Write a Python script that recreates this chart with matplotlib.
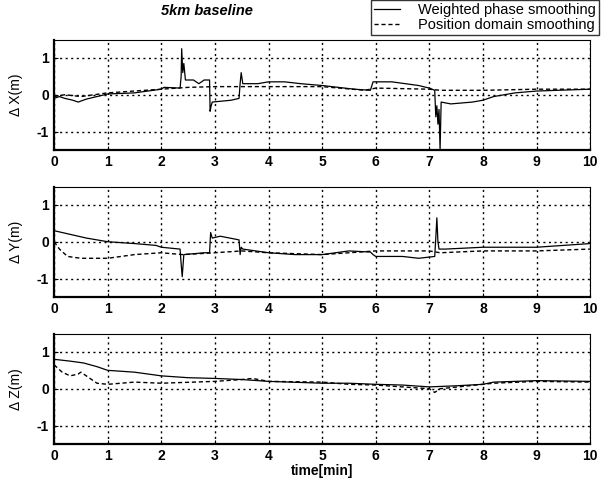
import matplotlib
matplotlib.use('Agg')
import matplotlib.pyplot as plt

plt.rcParams['font.family'] = ['Liberation Sans', 'DejaVu Sans']
plt.rcParams['axes.unicode_minus'] = False

# valores (tempo em min, erro em m)
t_x_wps = [0, 0.1, 0.2, 0.35, 0.45, 0.6, 0.8, 1.0, 1.5, 2.0, 2.05, 2.35, 2.37, 2.38, 2.4, 2.42, 2.45,
           2.6, 2.7, 2.8, 2.9, 2.91, 2.93, 2.95, 3.3, 3.45, 3.47, 3.49, 3.52, 3.8, 4.0, 4.3, 4.6, 5.0,
           5.3, 5.6, 5.9, 5.95, 6.3, 6.8, 7.0, 7.1, 7.12, 7.14, 7.16, 7.18, 7.2, 7.22, 7.4, 7.8, 8.0,
           8.2, 8.6, 9.0, 10]
x_wps = [-0.1, -0.05, -0.1, -0.15, -0.2, -0.12, -0.05, 0.02, 0.05, 0.15, 0.2, 0.18, 0.5, 1.25, 0.6,
         0.85, 0.4, 0.4, 0.3, 0.4, 0.4, -0.45, -0.3, -0.2, -0.15, -0.1, 0.3, 0.6, 0.3, 0.3, 0.35,
         0.35, 0.3, 0.25, 0.2, 0.15, 0.12, 0.35, 0.35, 0.25, 0.18, 0.12, -0.6, -0.3, -0.8, -0.4,
         -1.5, -0.2, -0.25, -0.2, -0.15, -0.05, 0.05, 0.1, 0.15]
t_x_pds = [0, 0.2, 0.5, 1.0, 2.0, 2.5, 3.0, 4.0, 5.0, 5.8, 6.0, 7.0, 7.2, 8.0, 9.0, 10]
x_pds = [-0.05, 0.0, -0.05, 0.05, 0.15, 0.2, 0.22, 0.22, 0.22, 0.12, 0.18, 0.15, 0.12, 0.12, 0.15, 0.15]

t_y_wps = [0, 0.3, 0.6, 1.0, 1.5, 1.9, 2.0, 2.35, 2.37, 2.39, 2.42, 2.8, 2.9, 2.92, 2.95, 3.1, 3.45,
           3.47, 3.49, 3.52, 4.0, 4.5, 5.0, 5.5, 5.9, 5.95, 6.0, 6.5, 6.8, 7.1, 7.12, 7.14, 7.16,
           7.18, 7.3, 8.0, 9.0, 9.5, 10]
y_wps = [0.3, 0.2, 0.1, 0.0, -0.05, -0.1, -0.15, -0.2, -0.6, -0.95, -0.35, -0.3, -0.3, 0.25, 0.1,
         0.15, 0.05, -0.35, -0.15, -0.2, -0.3, -0.35, -0.35, -0.25, -0.28, -0.35, -0.4, -0.4,
         -0.45, -0.4, 0.1, 0.65, 0.0, -0.2, -0.2, -0.15, -0.15, -0.1, -0.05]
t_y_pds = [0, 0.1, 0.25, 0.5, 1.0, 1.5, 2.0, 2.4, 3.0, 3.5, 4.0, 5.0, 5.5, 6.0, 7.0, 7.2, 8.0, 9.0, 10]
y_pds = [0.0, -0.2, -0.4, -0.45, -0.45, -0.35, -0.3, -0.35, -0.3, -0.25, -0.3, -0.35, -0.3, -0.25,
         -0.25, -0.3, -0.25, -0.25, -0.2]

t_z_wps = [0, 0.3, 0.55, 0.8, 1.0, 1.5, 2.0, 2.5, 3.0, 3.5, 4.0, 5.0, 5.5, 6.0, 6.5, 7.0, 7.5, 8.0,
           8.2, 9.0, 10]
z_wps = [0.8, 0.75, 0.7, 0.6, 0.5, 0.45, 0.35, 0.3, 0.28, 0.25, 0.2, 0.15, 0.15, 0.12, 0.1, 0.05,
         0.08, 0.12, 0.18, 0.22, 0.2]
t_z_pds = [0, 0.15, 0.3, 0.45, 0.5, 0.6, 0.8, 1.0, 1.5, 2.0, 3.0, 3.5, 3.7, 4.0, 5.0, 5.5, 6.0, 6.5,
           7.0, 7.1, 7.2, 8.0, 8.2, 9.0, 10]
z_pds = [0.65, 0.45, 0.35, 0.4, 0.45, 0.35, 0.15, 0.12, 0.18, 0.15, 0.2, 0.25, 0.28, 0.2, 0.18, 0.12,
         0.1, 0.05, 0.0, -0.1, 0.0, 0.12, 0.15, 0.2, 0.18]

ylabels = ['\u0394 X(m)', '\u0394 Y(m)', '\u0394 Z(m)']
series = [(t_x_wps, x_wps, t_x_pds, x_pds),
          (t_y_wps, y_wps, t_y_pds, y_pds),
          (t_z_wps, z_wps, t_z_pds, z_pds)]

fig = plt.figure(figsize=(6.01, 4.82), dpi=100)
bottoms = [0.689, 0.384, 0.079]
axes = []
for i, (ta, va, tb, vb) in enumerate(series):
    ax = fig.add_axes([0.090, bottoms[i], 0.892, 0.229])
    l1, = ax.plot(ta, va, color='black', lw=0.9, label='Weighted phase smoothing')
    l2, = ax.plot(tb, vb, color='black', lw=1.0, dashes=(3, 2), label='Position domain smoothing')
    ax.set_xlim(0, 10)
    ax.set_ylim(-1.5, 1.5)
    ax.set_xticks(range(0, 11))
    ax.set_yticks([-1, 0, 1])
    ax.grid(True, color='black', linestyle=(0, (1.5, 2.5)), lw=1.0)
    ax.tick_params(direction='in', length=3, labelsize=10)
    for lab in ax.get_xticklabels() + ax.get_yticklabels():
        lab.set_fontweight('bold')
    for s in ['left', 'bottom']:
        ax.spines[s].set_linewidth(1.6)
    for s in ['top', 'right']:
        ax.spines[s].set_linewidth(0.8)
    ax.set_ylabel(ylabels[i], fontsize=10, labelpad=10)
    axes.append(ax)

axes[2].set_xlabel('time[min]', fontsize=10, fontweight='bold', labelpad=1)

fig.text(0.345, 0.977, '5km baseline', fontsize=10.5, fontweight='bold', fontstyle='italic',
         ha='center', va='center')
leg = fig.legend(handles=[l1, l2], loc='upper right', bbox_to_anchor=(0.996, 1.0),
                 fontsize=10.5, frameon=True, fancybox=False, edgecolor='black',
                 handlelength=1.8, handletextpad=1.2, borderpad=0.2, labelspacing=0.1,
                 borderaxespad=0)
leg.get_frame().set_linewidth(1.0)

fig.savefig('out.png', dpi=100)
